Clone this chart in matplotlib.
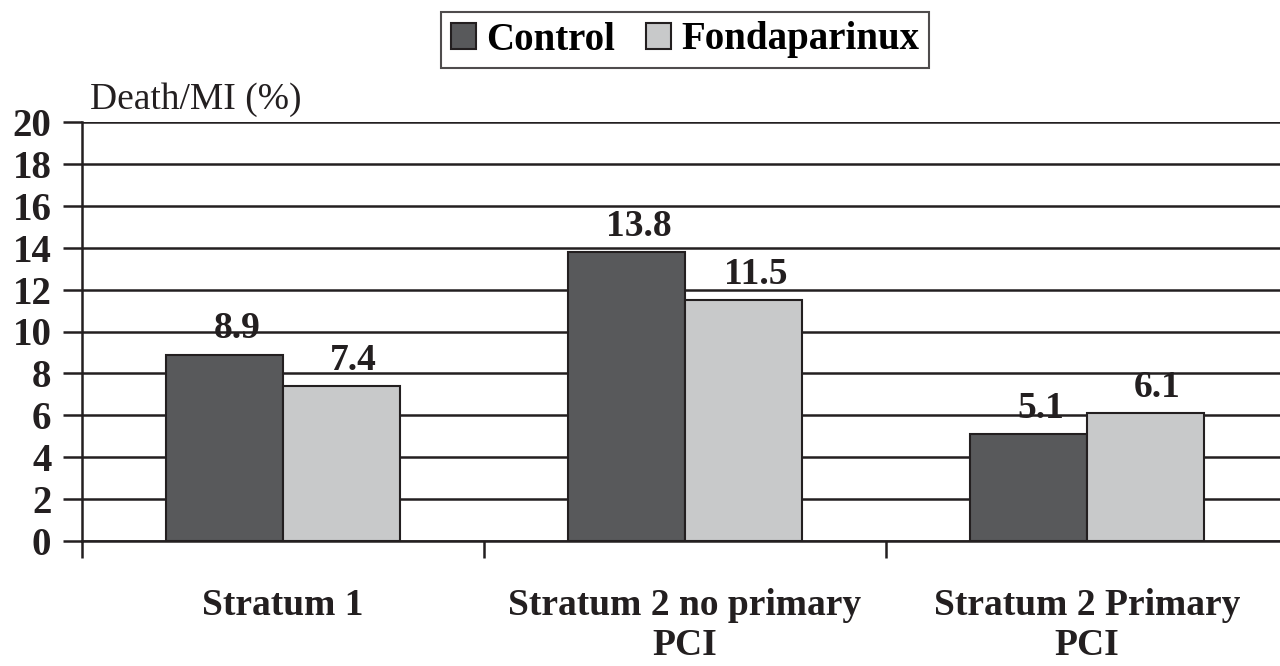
import numpy as np
import matplotlib.pyplot as plt

categories = ['Stratum 1', 'Stratum 2 no primary\nPCI', 'Stratum 2 Primary\nPCI']
control = [8.9, 13.8, 5.1]
fonda = [7.4, 11.5, 6.1]
yticks = [0, 2, 4, 6, 8, 10, 12, 14, 16, 18, 20]

plt.rcParams['font.family'] = ['Liberation Serif', 'DejaVu Serif']

fig = plt.figure(figsize=(12.8, 6.66), dpi=100)
ax = fig.add_axes([82/1280, 1 - 541/666, (1288 - 82)/1280, (541 - 122)/666])

x = np.arange(len(categories))
w = 0.29
b1 = ax.bar(x - w/2, control, w, color='#58595b', edgecolor='#231f20', linewidth=1.5, label='Control', zorder=3)
b2 = ax.bar(x + w/2, fonda, w, color='#c8c9ca', edgecolor='#231f20', linewidth=1.5, label='Fondaparinux', zorder=3)

for bars, vals in [(b1, control), (b2, fonda)]:
    for r, v in zip(bars, vals):
        ax.text(r.get_x() + r.get_width()/2 + 0.03, v + 0.4, f'{v}', ha='center', va='bottom',
                fontsize=27, fontweight='bold', color='#231f20')

ax.set_xlim(-0.5, 2.5)
ax.set_ylim(0, 20)
ax.set_yticks(yticks)
ax.set_yticklabels([str(t) for t in yticks], fontsize=28, fontweight='bold', color='#231f20')
ax.yaxis.grid(True, color='#231f20', linewidth=1.8, zorder=0)
ax.tick_params(axis='y', length=14, width=1.8, color='#231f20', pad=8)

ax.set_xticks(x)
ax.set_xticklabels(categories, fontsize=27, fontweight='bold', color='#231f20', linespacing=1.18)
ax.tick_params(axis='x', which='major', length=0, pad=34)
ax.set_xticks([-0.5, 0.5, 1.5, 2.5], minor=True)
ax.tick_params(axis='x', which='minor', length=12, width=1.8, color='#231f20')

for s in ['top', 'right']:
    ax.spines[s].set_visible(False)
for s in ['left', 'bottom']:
    ax.spines[s].set_linewidth(1.8)
    ax.spines[s].set_color('#231f20')

ax.text(90/1280, 1 - 100/666, 'Death/MI (%)', transform=fig.transFigure, fontsize=27,
        ha='left', va='center', color='#231f20')

leg = fig.legend(loc='center', bbox_to_anchor=(685/1280, 1 - 40/666), ncol=2, frameon=True,
                 fancybox=False, edgecolor='#231f20', handlelength=0.65, handleheight=0.65,
                 handletextpad=0.25, columnspacing=0.8, borderpad=0.25,
                 prop={'size': 28, 'weight': 'bold'})
leg.get_frame().set_linewidth(1.5)

fig.savefig('out.png', dpi=100)
